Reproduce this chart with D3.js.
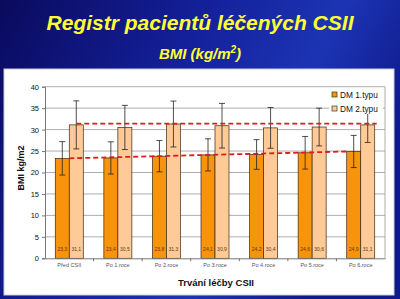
<!DOCTYPE html>
<html><head><meta charset="utf-8">
<script src="https://cdn.jsdelivr.net/npm/d3@7/dist/d3.min.js"></script>
<style>html,body{margin:0;padding:0;background:#0a0a5a;}svg{display:block;}</style>
</head><body>
<script>
const categories = ["Před CSII","Po 1.roce","Po 2.roce","Po 3.roce","Po 4.roce","Po 5.roce","Po 6.roce"];
const seriesNames = ["DM 1.typu","DM 2.typu"];
const dm1 = [23.3,23.4,23.8,24.1,24.2,24.6,24.9];
const dm2 = [31.1,30.5,31.3,30.9,30.4,30.6,31.1];
const dm1Err = [3.9,3.75,3.65,3.75,3.45,3.8,3.75];
const dm2Err = [5.6,5.15,5.35,5.2,4.75,4.4,4.1];
const dm1Labels = ["23,3","23,4","23,8","24,1","24,2","24,6","24,9"];
const dm2Labels = ["31,1","30,5","31,3","30,9","30,4","30,6","31,1"];
const trendDM1 = [23.3,24.9];
const trendDM2 = [31.4,31.4];
const yTicks = [0,5,10,15,20,25,30,35,40];

const W=400,H=299;
const svg=d3.select("body").append("svg").attr("width",W).attr("height",H);
const defs=svg.append("defs");
const g1=defs.append("linearGradient").attr("id","bg").attr("x1","0").attr("y1","0").attr("x2","1").attr("y2","0.4");
g1.append("stop").attr("offset","0").attr("stop-color","#0a0a5c");
g1.append("stop").attr("offset","0.45").attr("stop-color","#14209a");
g1.append("stop").attr("offset","0.75").attr("stop-color","#1c34b4");
g1.append("stop").attr("offset","1").attr("stop-color","#0f1a8a");
svg.append("rect").attr("width",W).attr("height",H).attr("fill","url(#bg)");

svg.append("text").attr("x",200).attr("y",30).attr("text-anchor","middle")
  .attr("font-family","Liberation Sans, Arial, sans-serif").attr("font-weight","bold").attr("font-style","italic")
  .attr("font-size",21).attr("fill","#ffff33").text("Registr pacientů léčených CSII");
const sub=svg.append("text").attr("x",200).attr("y",59).attr("text-anchor","middle")
  .attr("font-family","Liberation Sans, Arial, sans-serif").attr("font-weight","bold").attr("font-style","italic")
  .attr("font-size",15).attr("fill","#ffff33");
sub.append("tspan").text("BMI (kg/m");
sub.append("tspan").attr("font-size",10).attr("dy",-6).text("2");
sub.append("tspan").attr("dy",6).text(")");

// white panel
svg.append("rect").attr("x",4).attr("y",69).attr("width",390).attr("height",226).attr("fill","#ffffff").attr("stroke","#c8cce0").attr("stroke-width",1);

const L=45,R=385,T=86.7,B=258.3;
const y=d3.scaleLinear().domain([0,40]).range([B,T]);
const x0=d3.scaleBand().domain(categories).range([L,R]);
const bw=14;
const x1=d3.scaleBand().domain(seriesNames).range([x0.bandwidth()/2-bw, x0.bandwidth()/2+bw]);
const font="Liberation Sans, Arial, sans-serif";

// gridlines
svg.append("g").selectAll("line").data(yTicks.filter(d=>d>0)).join("line")
  .attr("x1",L).attr("x2",R).attr("y1",d=>y(d)).attr("y2",d=>y(d)).attr("stroke","#999").attr("stroke-width",0.8);
svg.append("line").attr("x1",R).attr("x2",R).attr("y1",T).attr("y2",B).attr("stroke","#999").attr("stroke-width",0.8);

// y axis
const ya=svg.append("g").attr("transform",`translate(${L},0)`).call(d3.axisLeft(y).tickValues(yTicks).tickSize(3).tickPadding(3));
ya.select(".domain").attr("stroke","#777");
ya.selectAll(".tick line").attr("stroke","#777");
ya.selectAll("text").attr("font-family",font).attr("font-size",7.5).attr("fill","#111");

// bars
const data=categories.map((c,i)=>({c,v:[{s:0,v:dm1[i],e:dm1Err[i],l:dm1Labels[i]},{s:1,v:dm2[i],e:dm2Err[i],l:dm2Labels[i]}]}));
const colors=["#f7940c","#fdca98"];
const groups=svg.append("g").selectAll("g").data(data).join("g").attr("transform",d=>`translate(${x0(d.c)},0)`);
groups.selectAll("rect").data(d=>d.v).join("rect")
  .attr("x",d=>x1(seriesNames[d.s])).attr("width",x1.bandwidth())
  .attr("y",d=>y(d.v)).attr("height",d=>B-y(d.v))
  .attr("fill",d=>colors[d.s]).attr("stroke","#3a2a10").attr("stroke-width",0.7);
groups.selectAll("text.vl").data(d=>d.v).join("text").attr("class","vl")
  .attr("x",d=>x1(seriesNames[d.s])+x1.bandwidth()/2).attr("y",251)
  .attr("text-anchor","middle").attr("font-family",font).attr("font-size",5).attr("fill","#5a3a10").text(d=>d.l);
// error bars
const eb=groups.selectAll("g.eb").data(d=>d.v).join("g").attr("class","eb").attr("stroke","#222").attr("stroke-width",0.8);
eb.append("line").attr("x1",d=>x1(seriesNames[d.s])+bw/2).attr("x2",d=>x1(seriesNames[d.s])+bw/2)
  .attr("y1",d=>y(d.v+d.e)).attr("y2",d=>y(d.v-d.e));
eb.append("line").attr("x1",d=>x1(seriesNames[d.s])+bw/2-3).attr("x2",d=>x1(seriesNames[d.s])+bw/2+3)
  .attr("y1",d=>y(d.v+d.e)).attr("y2",d=>y(d.v+d.e));
eb.append("line").attr("x1",d=>x1(seriesNames[d.s])+bw/2-3).attr("x2",d=>x1(seriesNames[d.s])+bw/2+3)
  .attr("y1",d=>y(d.v-d.e)).attr("y2",d=>y(d.v-d.e));

// x axis
const xa=svg.append("g").attr("transform",`translate(0,${B})`).call(d3.axisBottom(x0).tickSize(0).tickPadding(5));
xa.select(".domain").attr("stroke","#777");
xa.selectAll("text").attr("font-family",font).attr("font-size",5.5).attr("fill","#555");
svg.append("g").selectAll("line").data(categories.slice(1)).join("line")
  .attr("x1",d=>x0(d)).attr("x2",d=>x0(d)).attr("y1",B).attr("y2",B+3).attr("stroke","#777");

// trend lines
const c0=categories[0],c6=categories[6];
svg.append("line").attr("x1",x0(c0)+x1(seriesNames[0])+bw).attr("x2",x0(c6)+x1(seriesNames[0]))
  .attr("y1",y(trendDM1[0])).attr("y2",y(trendDM1[1]))
  .attr("stroke","#dd1c1c").attr("stroke-width",1.8).attr("stroke-dasharray","5,3");
svg.append("line").attr("x1",x0(c0)+x1(seriesNames[1])+bw/2).attr("x2",x0(c6)+x1(seriesNames[1])+bw+2)
  .attr("y1",y(trendDM2[0])).attr("y2",y(trendDM2[1]))
  .attr("stroke","#dd1c1c").attr("stroke-width",1.8).attr("stroke-dasharray","5,3");

// legend
const lg=svg.append("g").attr("transform","translate(329,88)");
lg.append("rect").attr("x",0).attr("y",0).attr("width",54).attr("height",26).attr("fill","#fff");
seriesNames.forEach((s,i)=>{
  lg.append("rect").attr("x",3).attr("y",4+i*14).attr("width",5).attr("height",5).attr("fill",colors[i]).attr("stroke","#333").attr("stroke-width",0.7);
  lg.append("text").attr("x",11).attr("y",9.5+i*14).attr("font-family",font).attr("font-size",8.3).attr("fill","#111").text(s);
});

// axis titles
svg.append("text").attr("x",216).attr("y",286).attr("text-anchor","middle").attr("font-family",font)
  .attr("font-weight","bold").attr("font-size",9.5).attr("fill","#111").text("Trvání léčby CSII");
svg.append("text").attr("transform","translate(24,168) rotate(-90)").attr("text-anchor","middle").attr("font-family",font)
  .attr("font-weight","bold").attr("font-size",9).attr("fill","#111").text("BMI kg/m2");
</script>
</body></html>
